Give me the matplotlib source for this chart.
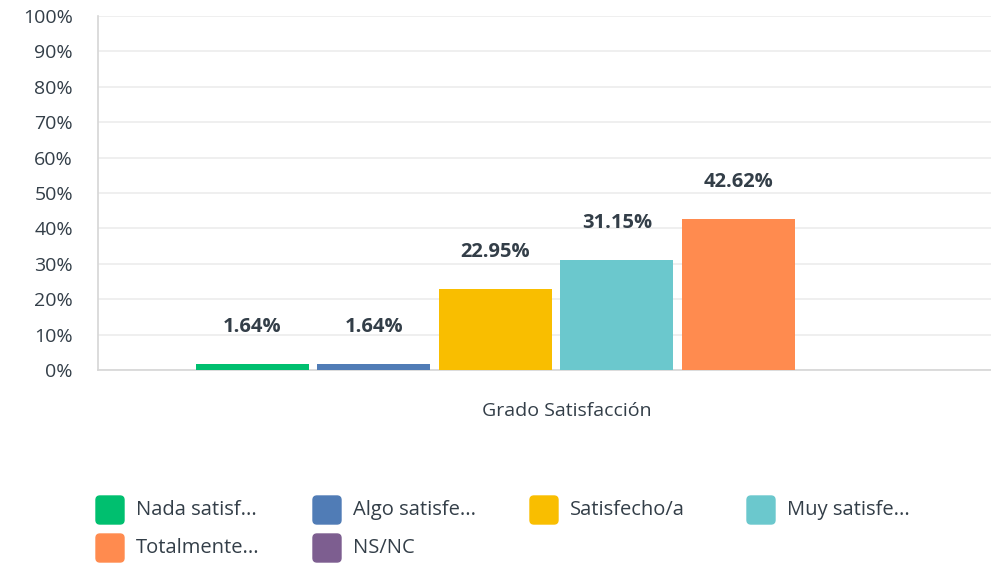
import matplotlib.pyplot as plt
from matplotlib.patches import FancyBboxPatch

# Datos
categoria = "Grado Satisfacción"
series = ["Nada satisf...", "Algo satisfe...", "Satisfecho/a", "Muy satisfe...",
          "Totalmente...", "NS/NC"]
valores = [1.64, 1.64, 22.95, 31.15, 42.62, 0.0]
colores = ["#00bf6f", "#507cb6", "#f9be00", "#6bc8cd", "#ff8b4f", "#7d5e90"]

TXT = "#333e48"
plt.rcParams["font.family"] = ["Open Sans", "DejaVu Sans"]

W, H = 991, 568
fig = plt.figure(figsize=(W / 100, H / 100), dpi=100)
ax = fig.add_axes([98 / W, (H - 370) / H, 893 / W, 354 / H])

pos = list(range(len(series)))
ax.bar(pos, valores, width=0.93, color=colores, zorder=3)

for x, v in zip(pos, valores):
    if v > 0:
        ax.annotate(f"{v:.2f}%", (x, v), xytext=(0, 26.5), textcoords="offset points",
                    ha="center", va="center", fontsize=14.5, fontweight="bold", color=TXT)

ax.set_xlim(-1.27, 6.08)
ax.set_ylim(0, 100)
ax.set_yticks(range(0, 101, 10))
ax.set_yticklabels([f"{t}%" for t in range(0, 101, 10)])
ax.set_xticks([2.59])
ax.set_xticklabels([categoria])
ax.tick_params(axis="y", length=0, pad=18, labelsize=14, labelcolor=TXT)
ax.tick_params(axis="x", length=0, pad=23, labelsize=14, labelcolor=TXT)

ax.grid(axis="y", color="#ececec", lw=1.2, zorder=0)
for s in ["top", "right"]:
    ax.spines[s].set_visible(False)
ax.spines["left"].set_color("#d6d6d6")
ax.spines["bottom"].set_color("#d6d6d6")
ax.spines["left"].set_linewidth(1.2)
ax.spines["bottom"].set_linewidth(1.2)

# Leyenda manual (4 columnas)
for i, (nombre, c) in enumerate(zip(series, colores)):
    col, fila = i % 4, i // 4
    x0 = 96 + col * 217
    yc = 510 + fila * 38
    fig.patches.append(FancyBboxPatch((x0 / W, (H - yc - 14) / H), 28 / W, 28 / H,
                                      boxstyle="round,pad=0,rounding_size=0.004",
                                      transform=fig.transFigure, color=c,
                                      mutation_aspect=W / H))
    fig.text((x0 + 40) / W, (H - yc) / H, nombre, fontsize=14.5, color=TXT,
             va="center", ha="left")

fig.savefig("out.png", dpi=100)
